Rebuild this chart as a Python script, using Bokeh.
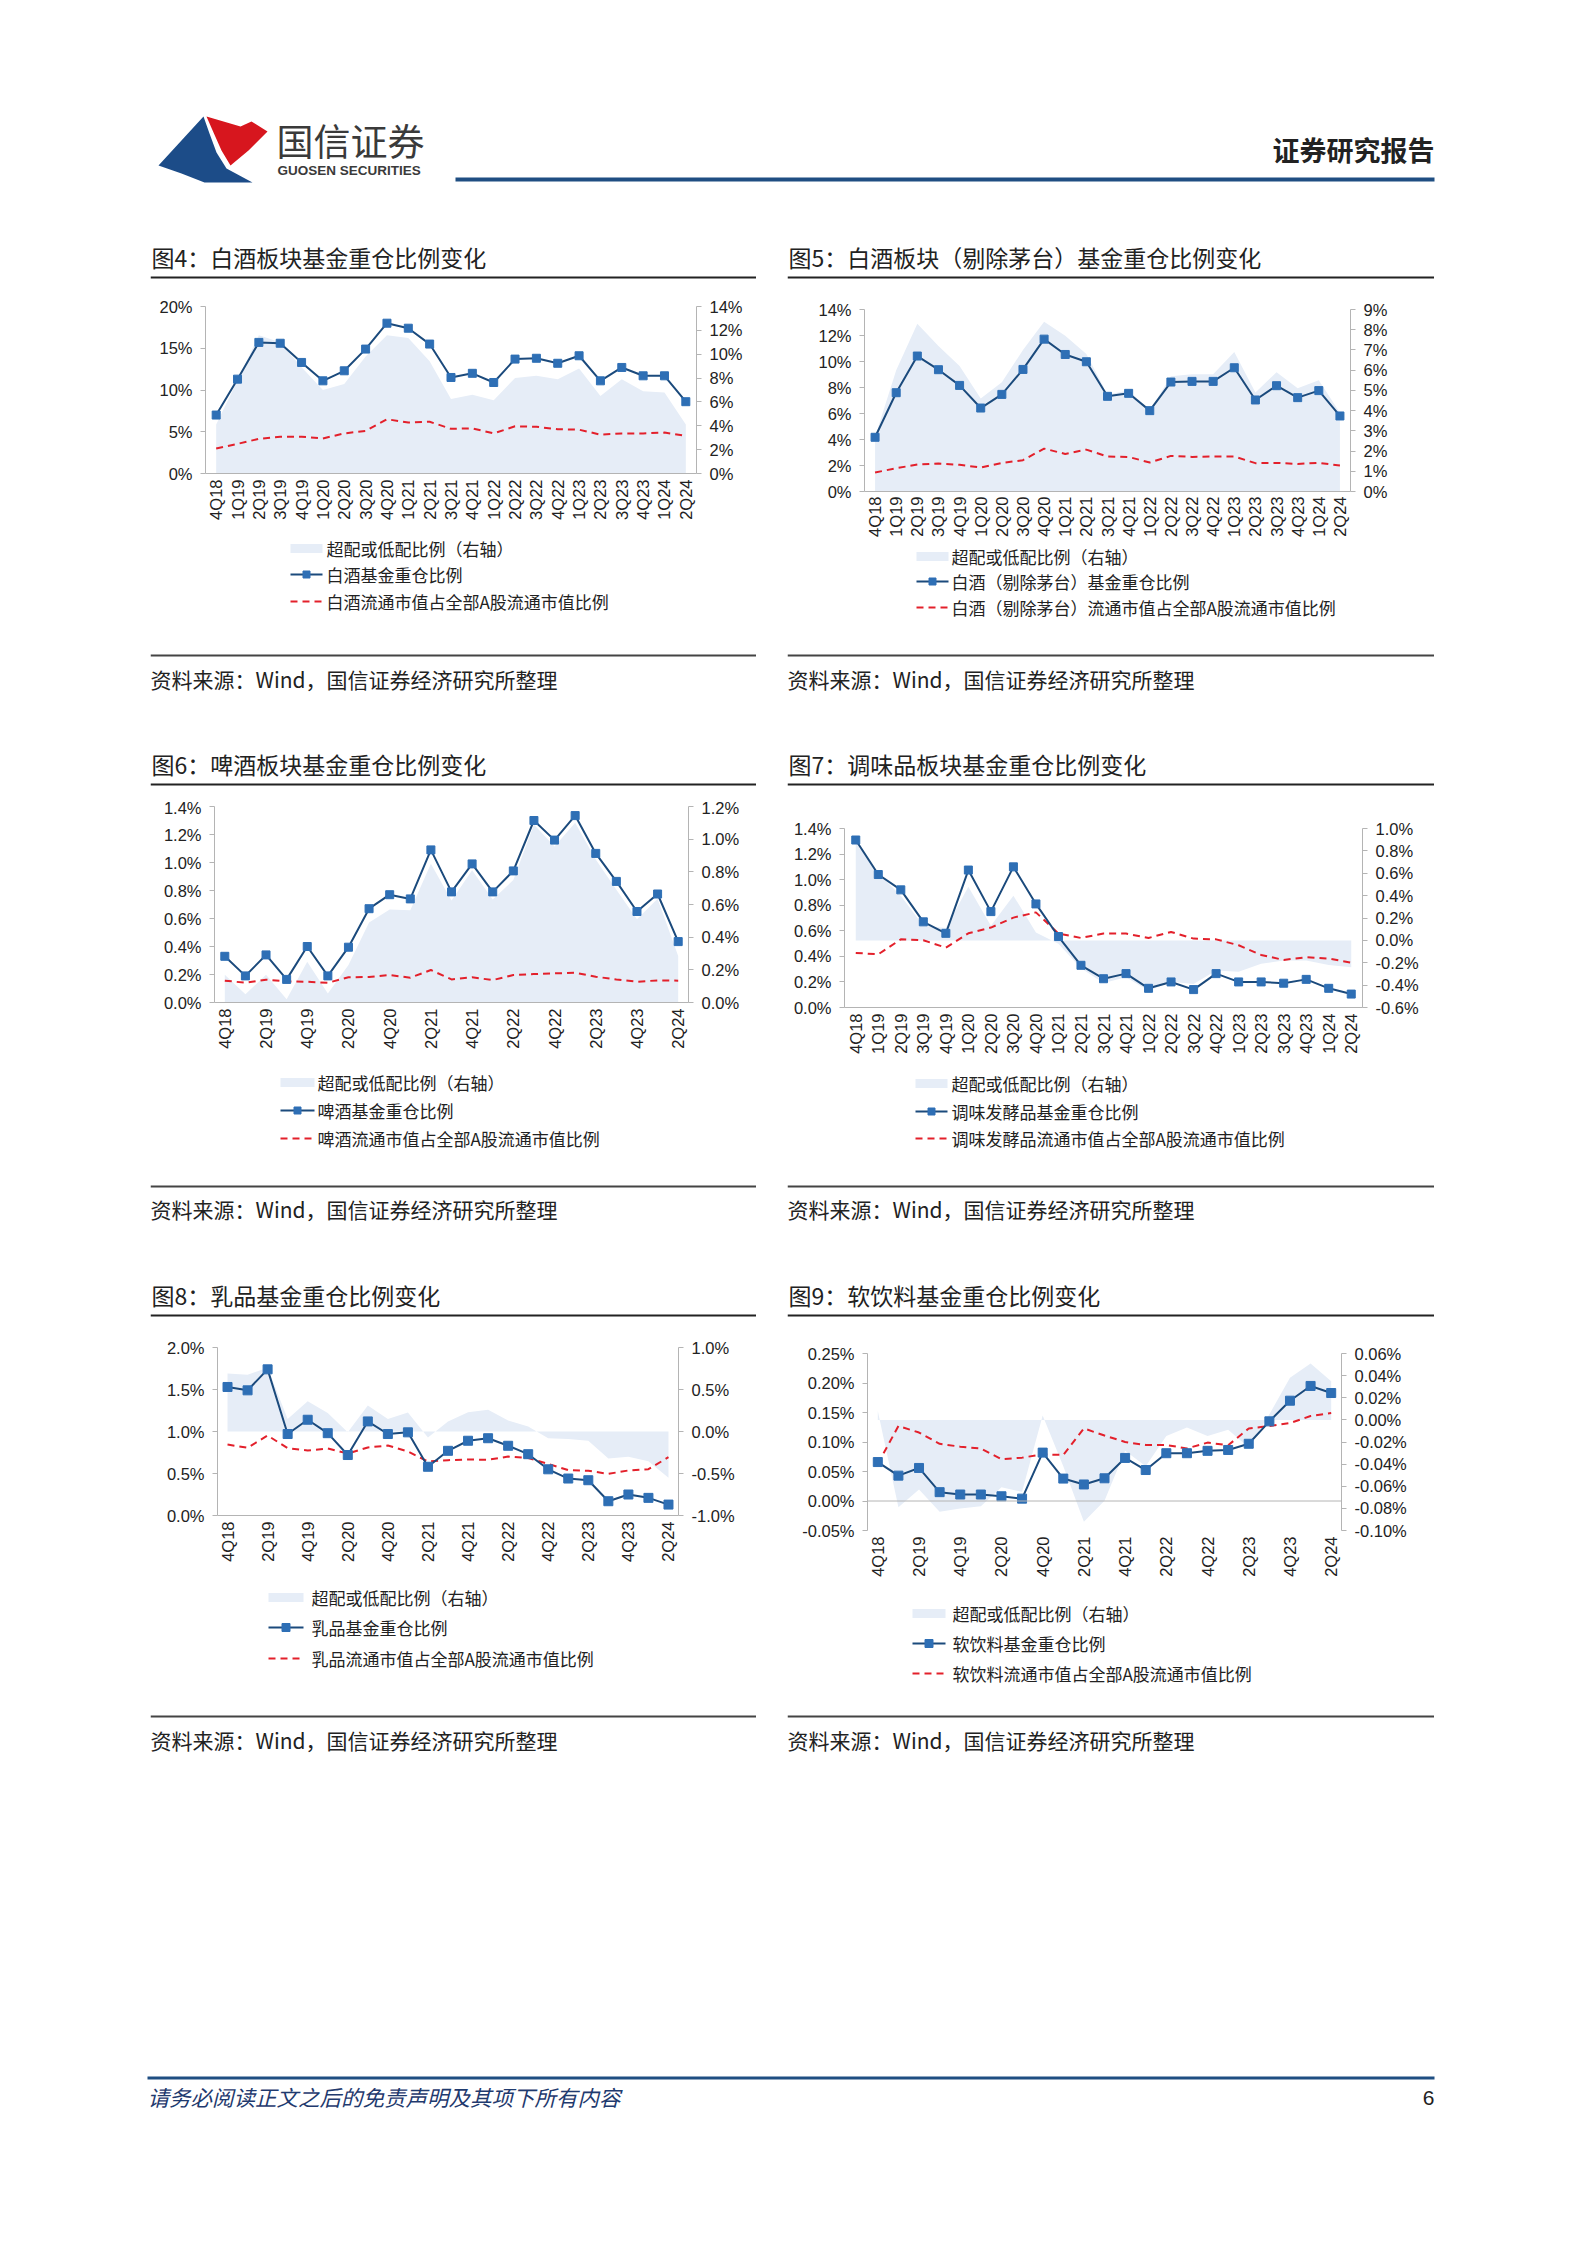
import math
from bokeh.plotting import figure
from bokeh.models import (Range1d, LinearAxis, FixedTicker, PrintfTickFormatter,
                          Spacer, Span, ColumnDataSource)
from bokeh.layouts import column, row
from bokeh.core.properties import value
from bokeh.embed import file_html
from bokeh.resources import INLINE

CJK = "Noto Sans CJK SC"
LAT = "Liberation Sans"
AREA = "#E6EDF7"
NAVY = "#1B4A7C"
MARK = "#2E6FB5"
RED = "#E3202B"
AXIS = "#B4B4B4"

# ---------------- data ----------------
quarters = ["4Q18", "1Q19", "2Q19", "3Q19", "4Q19", "1Q20", "2Q20", "3Q20", "4Q20",
            "1Q21", "2Q21", "3Q21", "4Q21", "1Q22", "2Q22", "3Q22", "4Q22",
            "1Q23", "2Q23", "3Q23", "4Q23", "1Q24", "2Q24"]

baijiu_fund = [7.0, 11.3, 15.7, 15.6, 13.3, 11.1, 12.3, 14.9, 18.0, 17.4, 15.5, 11.5,
               12.0, 10.9, 13.7, 13.8, 13.2, 14.1, 11.1, 12.7, 11.7, 11.7, 8.6]
baijiu_mkt = [3.0, 3.55, 4.15, 4.4, 4.4, 4.2, 4.8, 5.1, 6.5, 6.1, 6.2, 5.35,
              5.4, 4.8, 5.65, 5.6, 5.3, 5.25, 4.65, 4.8, 4.8, 4.9, 4.5]
baijiu_over = [4.1, 7.8, 11.6, 11.0, 8.9, 7.0, 7.5, 9.8, 11.6, 11.35, 9.4, 6.25,
               6.6, 6.15, 8.0, 8.2, 7.9, 8.8, 6.5, 7.9, 6.9, 6.8, 4.1]

exmt_fund = [4.17, 7.6, 10.42, 9.37, 8.16, 6.42, 7.47, 9.39, 11.72, 10.54, 9.98, 7.32,
             7.55, 6.22, 8.42, 8.47, 8.47, 9.52, 7.04, 8.14, 7.22, 7.76, 5.81]
exmt_mkt = [1.46, 1.79, 2.07, 2.15, 2.05, 1.84, 2.2, 2.41, 3.3, 2.89, 3.22, 2.69,
            2.66, 2.23, 2.74, 2.66, 2.69, 2.69, 2.18, 2.2, 2.12, 2.2, 2.0]
exmt_over = [2.7, 6.0, 8.3, 7.2, 6.2, 4.6, 5.4, 7.0, 8.4, 7.7, 6.8, 4.8,
             5.0, 4.0, 5.7, 5.8, 5.8, 6.9, 4.9, 5.9, 5.1, 5.5, 3.9]

beer_fund = [0.33, 0.19, 0.34, 0.165, 0.40, 0.19, 0.395, 0.67, 0.77, 0.74, 1.09, 0.79,
             0.99, 0.79, 0.94, 1.30, 1.16, 1.335, 1.065, 0.865, 0.65, 0.775, 0.435]
beer_mkt = [0.156, 0.141, 0.163, 0.151, 0.148, 0.141, 0.18, 0.182, 0.196, 0.177, 0.232, 0.165,
            0.18, 0.16, 0.196, 0.203, 0.208, 0.213, 0.184, 0.165, 0.148, 0.158, 0.156]
beer_over = [0.17, 0.05, 0.17, 0.02, 0.25, 0.055, 0.23, 0.49, 0.57, 0.565, 0.85, 0.625,
             0.81, 0.63, 0.75, 1.09, 0.955, 1.10, 0.875, 0.69, 0.51, 0.635, 0.285]

cond_fund = [1.31, 1.04, 0.92, 0.67, 0.58, 1.075, 0.75, 1.10, 0.81, 0.555, 0.33, 0.225,
             0.265, 0.15, 0.20, 0.14, 0.265, 0.20, 0.20, 0.19, 0.22, 0.15, 0.105]
cond_mkt = [0.427, 0.416, 0.533, 0.526, 0.468, 0.58, 0.625, 0.703, 0.744, 0.578, 0.544, 0.578,
            0.578, 0.544, 0.591, 0.539, 0.533, 0.487, 0.411, 0.372, 0.393, 0.383, 0.351]
cond_over = [0.90, 0.60, 0.40, 0.13, 0.11, 0.48, 0.13, 0.40, 0.07, -0.03, -0.25, -0.38,
             -0.33, -0.45, -0.37, -0.39, -0.27, -0.28, -0.21, -0.18, -0.18, -0.22, -0.24]

dairy_fund = [1.53, 1.49, 1.74, 0.97, 1.14, 0.98, 0.72, 1.12, 0.97, 0.99, 0.58, 0.77,
              0.89, 0.92, 0.83, 0.73, 0.55, 0.44, 0.42, 0.17, 0.25, 0.21, 0.13]
dairy_mkt = [0.845, 0.806, 0.952, 0.802, 0.774, 0.798, 0.738, 0.81, 0.833, 0.762, 0.643, 0.659,
             0.667, 0.663, 0.702, 0.683, 0.615, 0.54, 0.532, 0.496, 0.536, 0.552, 0.694]
dairy_over = [0.69, 0.675, 0.76, 0.15, 0.36, 0.22, -0.01, 0.31, 0.15, 0.225, -0.07, 0.12,
              0.23, 0.26, 0.13, 0.06, -0.08, -0.09, -0.11, -0.32, -0.30, -0.355, -0.55]

soft_fund = [0.066, 0.043, 0.056, 0.015, 0.011, 0.011, 0.008, 0.004, 0.082, 0.038, 0.028, 0.0385,
             0.073, 0.0525, 0.081, 0.081, 0.085, 0.0865, 0.097, 0.135, 0.170, 0.195, 0.183]
soft_mkt = [0.063, 0.127, 0.116, 0.097, 0.092, 0.089, 0.071, 0.0735, 0.079, 0.078, 0.123, 0.111,
            0.100, 0.095, 0.095, 0.089, 0.099, 0.0945, 0.123, 0.127, 0.132, 0.144, 0.149]
soft_over = [0.008, -0.079, -0.063, -0.083, -0.080, -0.078, -0.061, -0.065, 0.004, -0.042, -0.092, -0.073,
             -0.028, -0.042, -0.0145, -0.007, -0.0145, -0.009, -0.025, 0.005, 0.038, 0.051, 0.035]

SOURCE = "资料来源：Wind，国信证券经济研究所整理"
AREA_LABEL = "超配或低配比例（右轴）"


# ---------------- helpers ----------------
def no_align(p):
    p.frame_align = False
    return p


def deco_fig(w, h):
    p = figure(width=w, height=h, x_range=Range1d(0, w), y_range=Range1d(h, 0),
               output_backend="svg", toolbar_location=None,
               x_axis_type=None, y_axis_type=None, min_border=0)
    p.outline_line_color = None
    p.background_fill_color = "white"
    p.border_fill_color = "white"
    return no_align(p)


def txt(p, x, y, s, size, font=CJK, color="#222222", align="left", style="normal"):
    p.text(x=[x], y=[y], text=[s], text_font=value(font), text_font_size=value(size),
           text_color=color, text_align=align, text_baseline="middle",
           text_font_style=style)


def hline(p, x0, x1, y, color, width):
    p.segment(x0=[x0], y0=[y], x1=[x1], y1=[y], line_color=color, line_width=width)


def title_fig(w, title, ty, ry):
    p = deco_fig(w, 54)
    txt(p, 1, ty, title, "23px")
    hline(p, 0, w, ry, "#222222", 2)
    return p


def bottom_fig(w, h, px0, px1, tx, rows, labels, rule_y, src_y, msize):
    p = deco_fig(w, h)
    cx = (px0 + px1) / 2
    p.rect(x=[cx], y=[rows[0]], width=px1 - px0, height=9, fill_color=AREA, line_color=None)
    hline(p, px0, px1, rows[1], NAVY, 2)
    p.scatter(x=[cx], y=[rows[1]], marker="square", size=msize, fill_color=MARK, line_color=MARK)
    p.segment(x0=[px0], y0=[rows[2]], x1=[px1], y1=[rows[2]], line_color=RED,
              line_width=2, line_dash="7 5")
    for r, lab in zip(rows, labels):
        txt(p, tx, r, lab, "17px")
    hline(p, 0, w, rule_y, "#444444", 2)
    txt(p, 0, src_y, SOURCE, "21px")
    return p


def chart_fig(w, h, bl, br, bt, bb, lrng, rrng, lticks, rticks, lfmt, rfmt,
              step, fund, mkt, over, msize, zero_line=False, standoff=6):
    p = figure(width=w, height=h, x_range=Range1d(-0.5, len(quarters) - 0.5),
               y_range=Range1d(*lrng), output_backend="svg", toolbar_location=None,
               min_border_left=bl, min_border_right=br, min_border_top=bt,
               min_border_bottom=bb)
    no_align(p)
    p.outline_line_color = None
    p.xgrid.visible = False
    p.ygrid.visible = False
    p.extra_y_ranges = {"r": Range1d(*rrng)}
    p.add_layout(LinearAxis(y_range_name="r"), "right")

    ticks = list(range(0, len(quarters), step))
    xa = p.xaxis[0]
    xa.ticker = FixedTicker(ticks=ticks)
    xa.major_label_overrides = {i: quarters[i] for i in ticks}
    xa.major_label_orientation = math.pi / 2
    xa.major_tick_line_color = None
    xa.major_tick_out = 0
    xa.minor_tick_line_color = None
    xa.axis_line_color = None if zero_line else AXIS
    xa.major_label_standoff = standoff

    for ax, tk, fmt in ((p.yaxis[0], lticks, lfmt), (p.yaxis[1], rticks, rfmt)):
        ax.ticker = FixedTicker(ticks=tk)
        ax.formatter = PrintfTickFormatter(format=fmt)
        ax.axis_line_color = AXIS
        ax.major_tick_line_color = AXIS
        ax.major_tick_out = 5
        ax.major_tick_in = 0
        ax.minor_tick_line_color = None
        ax.major_label_standoff = 8

    for ax in p.axis:
        ax.major_label_text_font = LAT
        ax.major_label_text_font_size = "16.5px"
        ax.major_label_text_color = "#222222"

    if zero_line:
        p.add_layout(Span(location=0, dimension="width", line_color=AXIS, line_width=1))

    src = ColumnDataSource(dict(x=list(range(len(quarters))), fund=fund, mkt=mkt, over=over))
    p.varea(x="x", y1=0, y2="over", source=src, fill_color=AREA, y_range_name="r")
    p.line("x", "mkt", source=src, line_color=RED, line_width=2, line_dash="7 5")
    p.line("x", "fund", source=src, line_color=NAVY, line_width=2)
    p.scatter("x", "fund", source=src, marker="square", size=msize,
              fill_color=MARK, line_color=MARK)
    return p


# ---------------- header (page coordinates) ----------------
HW = 1460
header = deco_fig(HW, 236)
blue_logo_x = [158, 203, 209, 216, 226, 252, 204, 181]
blue_logo_y = [165, 116, 133, 152, 168, 182, 182, 173]
red_logo_x = [206, 240, 251, 267, 248, 230, 221, 213]
red_logo_y = [116, 126, 121, 131, 150, 165, 150, 132]
header.patches(xs=[blue_logo_x, red_logo_x], ys=[blue_logo_y, red_logo_y],
               fill_color=["#1C4C88", "#D7161E"], line_color=None)
txt(header, 276, 139, "国信证券", "37px", color="#3A3A3A")
txt(header, 277, 170, "GUOSEN SECURITIES", "13.5px", font=LAT, color="#3A3A3A", style="bold")
txt(header, 1434, 149, "证券研究报告", "27px", align="right", style="bold")
hline(header, 455, 1434, 179, "#1F4E82", 4)

# ---------------- row 1 ----------------
t4 = title_fig(606, "图4：白酒板块基金重仓比例变化", 20, 41)
c4 = chart_fig(606, 243, 55, 60, 16, 60, (0, 20), (0, 14),
               [0, 5, 10, 15, 20], [0, 2, 4, 6, 8, 10, 12, 14], "%d%%", "%d%%",
               1, baijiu_fund, baijiu_mkt, baijiu_over, 8)
b4 = bottom_fig(606, 211, 140, 172, 176, [15, 41, 68],
                [AREA_LABEL, "白酒基金重仓比例", "白酒流通市值占全部A股流通市值比例"],
                122, 145, 7)

t5 = title_fig(647, "图5：白酒板块（剔除茅台）基金重仓比例变化", 20, 41)
c5 = chart_fig(647, 252, 77, 84, 19, 51, (0, 14), (0, 9),
               [0, 2, 4, 6, 8, 10, 12, 14], [0, 1, 2, 3, 4, 5, 6, 7, 8, 9], "%d%%", "%d%%",
               1, exmt_fund, exmt_mkt, exmt_over, 8, standoff=5)
b5 = bottom_fig(647, 202, 129, 161, 164, [14, 39, 65],
                [AREA_LABEL, "白酒（剔除茅台）基金重仓比例",
                 "白酒（剔除茅台）流通市值占全部A股流通市值比例"],
                113, 136, 7)

# ---------------- row 2 ----------------
t6 = title_fig(606, "图6：啤酒板块基金重仓比例变化", 19, 40)
c6 = chart_fig(606, 270, 64, 68, 8, 66, (0, 1.4), (0, 1.2),
               [0, 0.2, 0.4, 0.6, 0.8, 1.0, 1.2, 1.4], [0, 0.2, 0.4, 0.6, 0.8, 1.0, 1.2],
               "%.1f%%", "%.1f%%", 2, beer_fund, beer_mkt, beer_over, 8)
b6 = bottom_fig(606, 206, 130, 164, 167, [14, 42, 70],
                [AREA_LABEL, "啤酒基金重仓比例", "啤酒流通市值占全部A股流通市值比例"],
                118, 140, 7)

t7 = title_fig(647, "图7：调味品板块基金重仓比例变化", 19, 40)
c7 = chart_fig(647, 270, 57, 72, 30, 61, (0, 1.4), (-0.6, 1.0),
               [0, 0.2, 0.4, 0.6, 0.8, 1.0, 1.2, 1.4],
               [-0.6, -0.4, -0.2, 0, 0.2, 0.4, 0.6, 0.8, 1.0],
               "%.1f%%", "%.1f%%", 1, cond_fund, cond_mkt, cond_over, 8)
b7 = bottom_fig(647, 206, 128, 160, 164, [15, 43, 70],
                [AREA_LABEL, "调味发酵品基金重仓比例", "调味发酵品流通市值占全部A股流通市值比例"],
                118, 140, 7)

# ---------------- row 3 ----------------
t8 = title_fig(606, "图8：乳品基金重仓比例变化", 20, 41)
c8 = chart_fig(606, 254, 67, 78, 19, 67, (0, 2.0), (-1.0, 1.0),
               [0, 0.5, 1.0, 1.5, 2.0], [-1.0, -0.5, 0, 0.5, 1.0],
               "%.1f%%", "%.1f%%", 2, dairy_fund, dairy_mkt, dairy_over, 9)
b8 = bottom_fig(606, 212, 118, 153, 161, [15, 45, 76],
                [AREA_LABEL, "乳品基金重仓比例", "乳品流通市值占全部A股流通市值比例"],
                134, 157, 8)

t9 = title_fig(647, "图9：软饮料基金重仓比例变化", 20, 41)
c9 = chart_fig(647, 270, 80, 93, 25, 68, (-0.05, 0.25), (-0.10, 0.06),
               [-0.05, 0, 0.05, 0.10, 0.15, 0.20, 0.25],
               [-0.10, -0.08, -0.06, -0.04, -0.02, 0, 0.02, 0.04, 0.06],
               "%.2f%%", "%.2f%%", 2, soft_fund, soft_mkt, soft_over, 9, zero_line=True)
b9 = bottom_fig(647, 196, 125, 158, 165, [15, 45, 75],
                [AREA_LABEL, "软饮料基金重仓比例", "软饮料流通市值占全部A股流通市值比例"],
                118, 141, 8)

# ---------------- footer (page y - 1794) ----------------
footer = deco_fig(HW, 336)
hline(footer, 147, 1434, 283.5, "#1F4E82", 3)
txt(footer, 147, 302, "请务必阅读正文之后的免责声明及其项下所有内容", "21.5px",
    color="#1F3A6E", style="italic")
txt(footer, 1434, 303, "6", "21px", font=LAT, align="right")


def panel_row(h, left, right):
    return row(Spacer(width=150, height=h), column(*left), Spacer(width=31, height=h),
               column(*right))


layout = column(
    header,
    panel_row(508, (t4, c4, b4), (t5, c5, b5)),
    panel_row(530, (t6, c6, b6), (t7, c7, b7)),
    panel_row(520, (t8, c8, b8), (t9, c9, b9)),
    footer,
)

open("out.html", "w").write(file_html(layout, INLINE, title="证券研究报告"))
